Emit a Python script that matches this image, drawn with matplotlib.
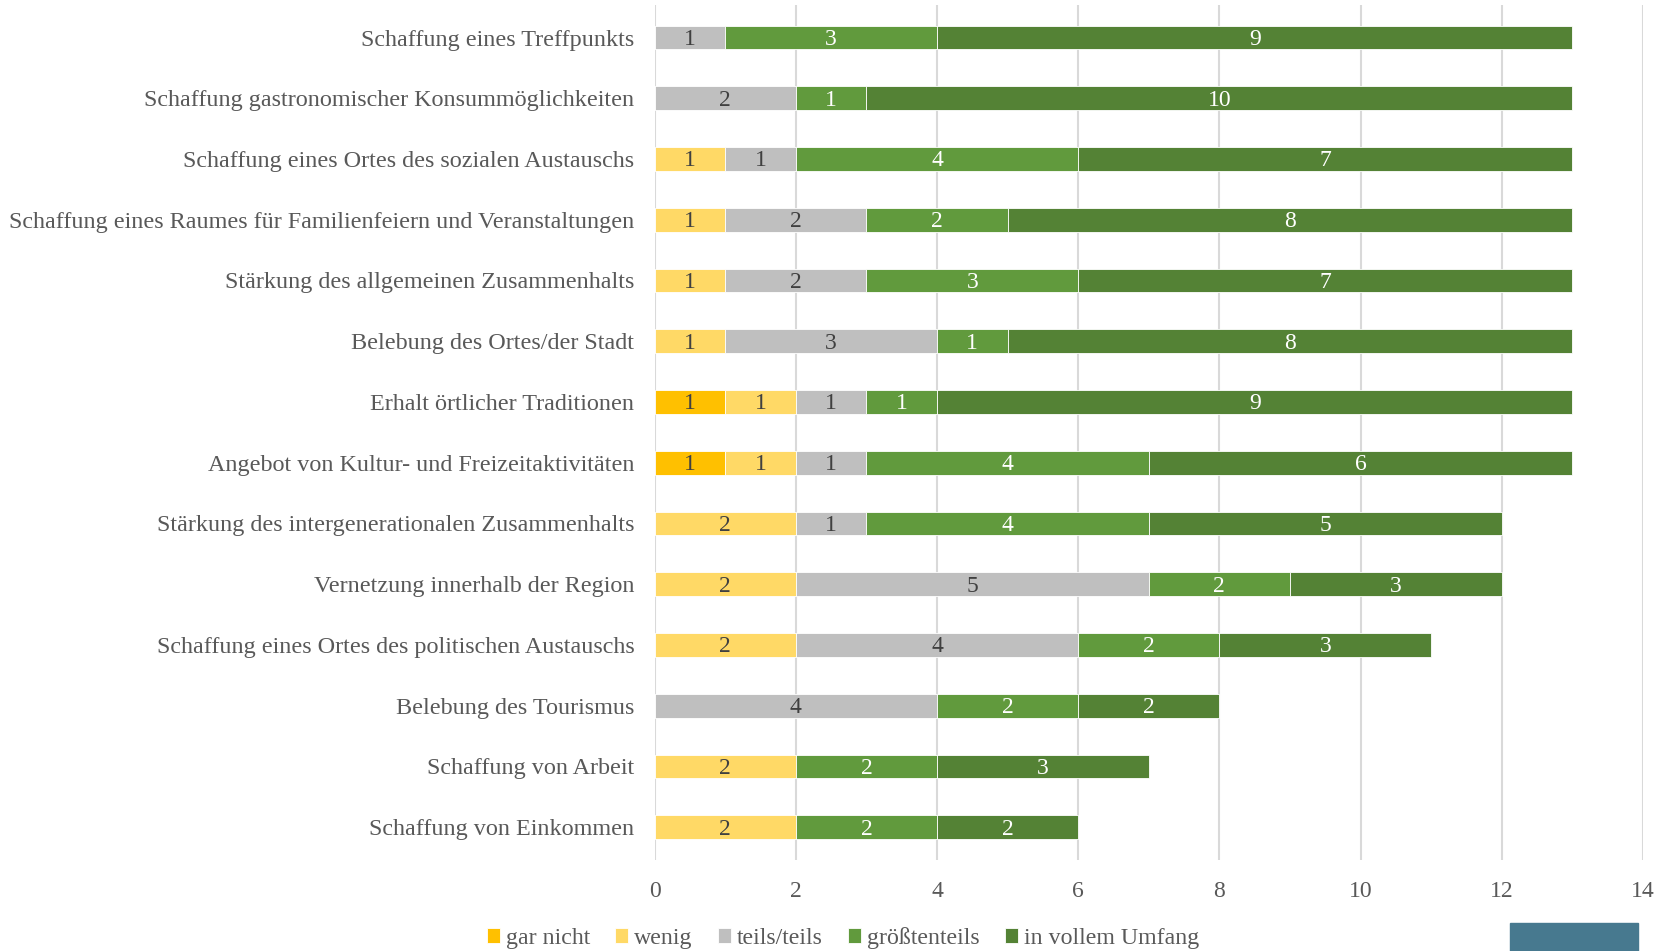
import matplotlib
matplotlib.use("Agg")
import matplotlib.pyplot as plt
from matplotlib.patches import Rectangle
import numpy as np

categories = [
    "Schaffung eines Treffpunkts",
    "Schaffung gastronomischer Konsummöglichkeiten",
    "Schaffung eines Ortes des sozialen Austauschs",
    "Schaffung eines Raumes für Familienfeiern und Veranstaltungen",
    "Stärkung des allgemeinen Zusammenhalts",
    "Belebung des Ortes/der Stadt",
    "Erhalt örtlicher Traditionen",
    "Angebot von Kultur- und Freizeitaktivitäten",
    "Stärkung des intergenerationalen Zusammenhalts",
    "Vernetzung innerhalb der Region",
    "Schaffung eines Ortes des politischen Austauschs",
    "Belebung des Tourismus",
    "Schaffung von Arbeit",
    "Schaffung von Einkommen",
]
series_names = ["gar nicht", "wenig", "teils/teils", "größtenteils", "in vollem Umfang"]
gar_nicht = [0, 0, 0, 0, 0, 0, 1, 1, 0, 0, 0, 0, 0, 0]
wenig = [0, 0, 1, 1, 1, 1, 1, 1, 2, 2, 2, 0, 2, 2]
teils = [1, 2, 1, 2, 2, 3, 1, 1, 1, 5, 4, 4, 0, 0]
groesstenteils = [3, 1, 4, 2, 3, 1, 1, 4, 4, 2, 2, 2, 2, 2]
voll = [9, 10, 7, 8, 7, 8, 9, 6, 5, 3, 3, 2, 3, 2]
x_ticks = [0, 2, 4, 6, 8, 10, 12, 14]

colors = ["#FFC000", "#FFD966", "#BFBFBF", "#619A3D", "#548235"]
label_colors = ["#404040", "#404040", "#404040", "white", "white"]

plt.rcParams['font.family'] = ['Liberation Serif', 'DejaVu Serif']

fig = plt.figure(figsize=(16.69, 9.51), dpi=100)
ax = fig.add_axes([0.3922, 0.0957, 0.5922, 0.8987])

n = len(categories)
y = np.arange(n)[::-1]
left = np.zeros(n)
for name, vals, col, lc in zip(series_names, [gar_nicht, wenig, teils, groesstenteils, voll], colors, label_colors):
    vals = np.array(vals, dtype=float)
    ax.barh(y, vals, left=left, height=0.39, color=col, edgecolor="white",
            linewidth=0.6, label=name, zorder=3)
    for yi, l, v in zip(y, left, vals):
        if v > 0:
            ax.text(l + v / 2, yi - 0.03, f"{int(v)}", ha="center", va="center",
                    fontsize=17, color=lc, zorder=4)
    left = left + vals

ax.set_xlim(0, 14)
ax.set_ylim(-0.54, n - 1 + 0.53)
ax.set_xticks(x_ticks)
ax.set_yticks(y)
ax.set_yticklabels(categories)
ax.tick_params(axis="y", length=0, pad=14.5, labelsize=17.4, labelcolor="#595959")
ax.tick_params(axis="x", length=0, pad=15, labelsize=17, labelcolor="#595959")
ax.grid(axis="x", color="#D9D9D9", linewidth=1.5, zorder=0)
ax.set_axisbelow(True)
for s in ax.spines.values():
    s.set_visible(False)

fig.legend(loc="center", bbox_to_anchor=(843 / 1669, 1 - 938 / 951), ncol=5,
           frameon=False, fontsize=17.2, handlelength=0.55, handleheight=0.55,
           handletextpad=0.25, columnspacing=1.05, labelcolor="#595959")

fig.patches.append(Rectangle((1510 / 1669, 0), 128 / 1669, 28 / 951,
                             transform=fig.transFigure, color="#47798F", zorder=5))

fig.savefig("out.png", dpi=100)
